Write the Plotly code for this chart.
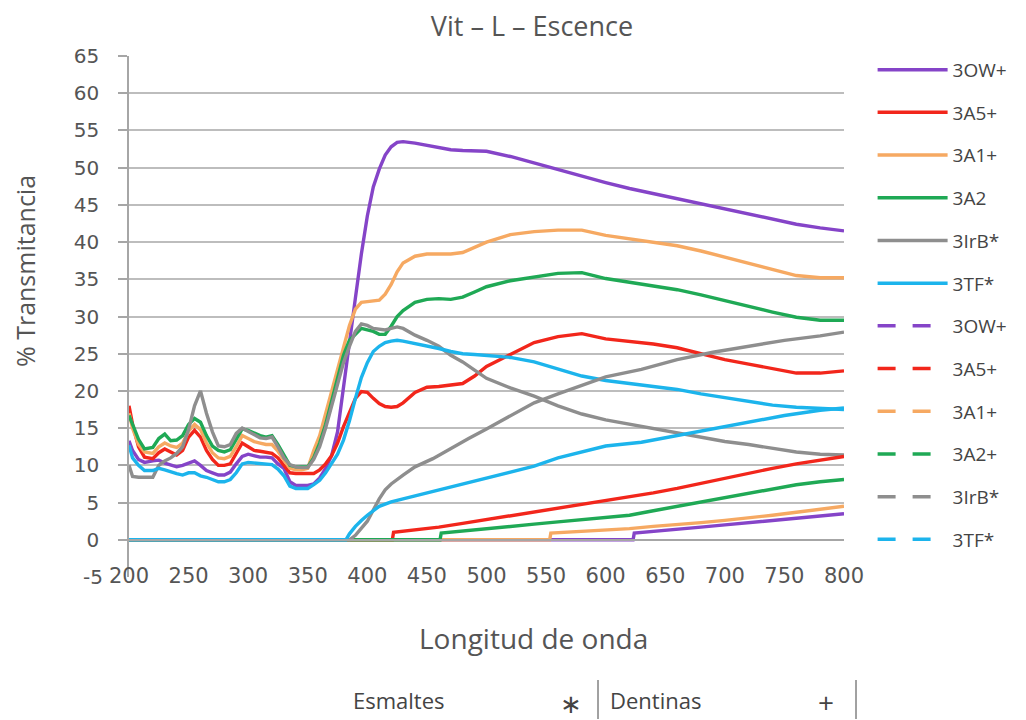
import plotly.graph_objects as go

# ---------------- data ----------------
WL = [200, 203, 208, 213, 220, 225, 230, 235, 240, 245, 250, 255, 260, 265, 270, 275, 280, 285,
      290, 295, 300, 305, 310, 315, 320, 325, 330, 335, 340, 345, 350,
      355, 360, 365, 370, 375, 380, 385, 390, 395, 400, 405, 410, 415, 420, 425, 430,
      440, 450, 460, 470, 480, 490, 500,
      520, 540, 560, 580, 600, 620, 640, 660, 680, 700, 720, 740, 760, 780, 800]

OW_E = [13.3, 12.0, 10.8, 10.4, 10.6, 10.7, 10.3, 10.1, 9.8, 10.0, 10.3, 10.6, 10.0, 9.3, 9.0, 8.7, 8.7, 9.1,
        10.2, 11.2, 11.5, 11.3, 11.1, 11.1, 11.0, 10.2, 9.6, 7.8, 7.3, 7.3, 7.3,
        7.5, 8.3, 9.6, 11.3, 14.5, 20.5, 27.3, 32.5, 38.4, 43.5, 47.4, 49.8, 51.7, 52.8, 53.4, 53.5,
        53.3, 53.0, 52.7, 52.4, 52.3, 52.3, 52.2,
        51.5, 50.6, 49.7, 48.8, 48.0, 47.2, 46.5, 45.8, 45.1, 44.4, 43.7, 43.0, 42.4, 41.9, 41.5]
A5_E = [18.0, 15.5, 12.5, 11.1, 10.9, 11.7, 12.2, 11.8, 11.4, 12.0, 13.8, 14.7, 13.8, 12.0, 10.8, 10.0, 10.0, 10.2,
        11.5, 13.0, 12.5, 12.0, 11.9, 11.7, 11.6, 11.0, 10.0, 9.0, 8.9, 8.9, 8.9,
        8.9, 9.4, 10.2, 11.3, 13.0, 15.2, 17.2, 19.0, 19.9, 19.8, 19.0, 18.3, 17.9, 17.8, 17.9, 18.4,
        19.8, 20.5, 20.6, 20.8, 21.0, 22.0, 23.3,
        24.9, 26.5, 27.3, 27.7, 27.0, 26.7, 26.3, 25.8, 25.0, 24.2, 23.6, 23.0, 22.4, 22.4, 22.7]
A1_E = [17.0, 15.0, 12.8, 11.8, 11.6, 12.5, 13.0, 12.6, 12.4, 13.0, 14.6, 15.5, 14.8, 13.0, 11.7, 11.0, 10.9, 11.2,
        12.5, 14.0, 13.6, 13.2, 13.0, 12.8, 12.8, 11.9, 10.7, 9.6, 9.4, 9.4, 9.6,
        12.0, 14.0, 17.0, 20.0, 23.0, 25.9, 28.8, 31.0, 31.9, 32.0, 32.1, 32.2, 33.0, 34.3, 36.0, 37.2,
        38.1, 38.4, 38.4, 38.4, 38.6, 39.3, 40.0,
        41.0, 41.4, 41.6, 41.6, 40.9, 40.4, 40.0, 39.5, 38.8, 38.0, 37.2, 36.4, 35.5, 35.2, 35.2]
A2_E = [16.7, 15.5, 13.5, 12.2, 12.4, 13.6, 14.2, 13.3, 13.4, 14.0, 15.5, 16.3, 15.8, 14.0, 12.6, 12.0, 11.8, 12.1,
        13.5, 14.9, 14.7, 14.3, 14.0, 13.8, 14.0, 12.8, 11.3, 10.0, 9.8, 9.8, 9.8,
        11.0, 13.0, 15.5, 18.6, 21.8, 24.8, 26.8, 27.6, 28.4, 28.2, 28.0, 27.6, 27.6, 28.7, 30.0, 30.8,
        31.9, 32.3, 32.4, 32.3, 32.6, 33.3, 34.0,
        34.8, 35.3, 35.8, 35.9, 35.1, 34.6, 34.1, 33.6, 32.9, 32.1, 31.3, 30.6, 29.9, 29.5, 29.5]
IRB_E = [10.0, 8.5, 8.4, 8.4, 8.4, 10.0, 10.6, 11.0, 11.6, 12.5, 14.8, 18.0, 20.0, 17.0, 14.5, 12.6, 12.5, 12.8,
         14.3, 15.0, 14.6, 14.2, 13.7, 13.6, 13.8, 12.5, 11.0, 10.1, 9.8, 9.7, 9.7,
         10.8, 12.5, 15.0, 18.0, 21.0, 23.8, 26.0, 28.0, 29.0, 28.8, 28.4, 28.3, 28.2, 28.4, 28.6, 28.4,
         27.5, 26.8, 26.0, 24.8, 23.9, 22.8, 21.7,
         20.4, 19.3, 18.0, 16.9, 16.1, 15.5, 14.9, 14.3, 13.8, 13.2, 12.8, 12.3, 11.8, 11.5, 11.4]
TF_E = [12.7, 11.0, 10.0, 9.3, 9.3, 9.6, 9.4, 9.1, 8.9, 8.7, 9.0, 9.0, 8.6, 8.4, 8.1, 7.8, 7.8, 8.1,
        9.0, 10.2, 10.4, 10.3, 10.2, 10.2, 10.1, 9.5, 8.6, 7.2, 6.9, 6.9, 6.9,
        7.4, 8.0, 9.0, 10.2, 11.5, 13.4, 16.0, 19.0, 21.8, 23.8, 25.3, 26.0, 26.5, 26.7, 26.8, 26.7,
        26.4, 26.0, 25.7, 25.3, 25.0, 24.9, 24.8,
        24.5, 23.9, 22.9, 22.0, 21.4, 21.0, 20.6, 20.2, 19.6, 19.1, 18.6, 18.1, 17.8, 17.6, 17.5]

OW_D_X = [200, 623, 624, 640, 660, 680, 700, 720, 740, 760, 780, 800]
OW_D = [0, 0, 0.9, 1.1, 1.4, 1.7, 2.0, 2.3, 2.6, 2.9, 3.2, 3.5]
A5_D_X = [200, 421, 422, 440, 460, 480, 500, 520, 540, 560, 580, 600, 620, 640, 660, 680, 700, 720, 740, 760, 780, 800]
A5_D = [0, 0, 1.0, 1.3, 1.7, 2.2, 2.7, 3.2, 3.7, 4.2, 4.7, 5.2, 5.7, 6.3, 6.9, 7.6, 8.3, 9.0, 9.6, 10.2, 10.7, 11.2]
A1_D_X = [200, 553, 554, 580, 600, 620, 640, 660, 680, 700, 720, 740, 760, 780, 800]
A1_D = [0, 0, 0.9, 1.1, 1.3, 1.5, 1.8, 2.0, 2.3, 2.6, 2.9, 3.3, 3.7, 4.1, 4.5]
A2_D_X = [200, 461, 462, 480, 500, 520, 540, 560, 580, 600, 620, 640, 660, 680, 700, 720, 740, 760, 780, 800]
A2_D = [0, 0, 0.9, 1.2, 1.5, 1.8, 2.1, 2.4, 2.7, 3.0, 3.3, 3.9, 4.5, 5.1, 5.7, 6.3, 6.9, 7.4, 7.8, 8.1]
IRB_D_X = [200, 385, 390, 395, 400, 405, 410, 415, 420, 430, 440, 455, 470, 485, 500, 520, 540, 560, 580, 600,
           630, 660, 690, 720, 750, 780, 800]
IRB_D = [0, 0, 0.6, 1.5, 2.5, 4.0, 5.5, 6.7, 7.5, 8.7, 9.8, 10.9, 12.3, 13.6, 14.9, 16.6, 18.4, 19.6, 20.7, 21.9,
         22.9, 24.2, 25.2, 26.0, 26.8, 27.4, 27.9]
TF_D_X = [200, 382, 385, 390, 395, 400, 410, 420, 430, 440, 455, 470, 485, 500, 520, 540, 560, 580, 600,
          630, 660, 690, 720, 750, 780, 800]
TF_D = [0, 0, 0.8, 1.8, 2.6, 3.3, 4.5, 5.1, 5.5, 5.9, 6.5, 7.1, 7.7, 8.3, 9.1, 9.9, 11.0, 11.8, 12.6,
        13.1, 14.0, 14.9, 15.8, 16.7, 17.4, 17.7]

NAMES_E = ["3OW+", "3A5+", "3A1+", "3A2", "3IrB*", "3TF*"]
NAMES_D = ["3OW+", "3A5+", "3A1+", "3A2+", "3IrB*", "3TF*"]
X_TICKS = list(range(200, 801, 50))
Y_TICKS = list(range(-5, 66, 5))

# ---------------- style ----------------
COLORS = ["#8544C8", "#F2261B", "#F6A962", "#1FA955", "#8E8E8E", "#1CB4EC"]
TXT = "#555555"
FONT = "Open Sans"
TICKFONT = "DejaVu Sans"
LW = 3.4

fig = go.Figure()

solid_y = [OW_E, A5_E, A1_E, A2_E, IRB_E, TF_E]
dash_x = [OW_D_X, A5_D_X, A1_D_X, A2_D_X, IRB_D_X, TF_D_X]
dash_y = [OW_D, A5_D, A1_D, A2_D, IRB_D, TF_D]

for name, col, ys in zip(NAMES_E, COLORS, solid_y):
    fig.add_trace(go.Scatter(x=WL, y=ys, mode="lines", name=name, showlegend=False,
                             line=dict(color=col, width=LW), hoverinfo="skip"))
for name, col, xs, ys in zip(NAMES_D, COLORS, dash_x, dash_y):
    fig.add_trace(go.Scatter(x=xs, y=ys, mode="lines", name=name, showlegend=False,
                             line=dict(color=col, width=LW), hoverinfo="skip"))

# legend entries (solid group, then dashed group)
for i, (name, col) in enumerate(zip(NAMES_E, COLORS)):
    fig.add_trace(go.Scatter(x=[None], y=[None], mode="lines", name=name, legendgroup=f"e{i}",
                             line=dict(color=col, width=3.5)))
for i, (name, col) in enumerate(zip(NAMES_D, COLORS)):
    fig.add_trace(go.Scatter(x=[None], y=[None], mode="lines", name=name, legendgroup=f"d{i}",
                             line=dict(color=col, width=3.5, dash="18px,17px")))

y_lo, y_hi = Y_TICKS[0], Y_TICKS[-1]

fig.update_layout(
    width=1026, height=720,
    margin=dict(l=129, r=182, t=56, b=143, pad=0),
    paper_bgcolor="white", plot_bgcolor="white",
    title=dict(text="Vit – L – Escence", x=532 / 1026, xanchor="center", y=1 - 27 / 720, yanchor="middle",
               font=dict(family=FONT, size=27, color=TXT)),
    xaxis=dict(range=[X_TICKS[0], X_TICKS[-1]], tickvals=X_TICKS, showgrid=False, zeroline=False,
               anchor="free", position=(0 - y_lo) / (y_hi - y_lo),
               showline=True, linecolor="#A6A6A6", linewidth=1.5, ticks="",
               ticklabelstandoff=17,
               tickfont=dict(family=TICKFONT, size=21, color=TXT)),
    yaxis=dict(range=[y_lo, y_hi], tickvals=Y_TICKS[1:], showgrid=True, gridcolor="#BDBDBD", gridwidth=2,
               zeroline=False, showline=True, linecolor="#A6A6A6", linewidth=1.5,
               ticks="outside", ticklen=9, tickcolor="#A6A6A6", tickwidth=1.5,
               ticklabelstandoff=15,
               tickfont=dict(family=TICKFONT, size=20, color=TXT)),
    legend=dict(x=1.04, xanchor="left", y=1.01, yanchor="top", traceorder="grouped",
                tracegroupgap=15, itemwidth=70, bgcolor="rgba(0,0,0,0)", maxheight=700,
                font=dict(family=FONT, size=19, color="#444444")),
    showlegend=True,
)

# "-5" tick label of the value axis (no gridline there)
fig.add_annotation(x=0, xref="paper", y=y_lo, yref="y", text=str(Y_TICKS[0]), showarrow=False,
                   xanchor="right", yanchor="middle", xshift=-24,
                   font=dict(family=TICKFONT, size=20, color=TXT))


def px(xp):
    return (xp - 129) / 715


def py(yp):
    return (577 - yp) / 521


# axis titles
fig.add_annotation(x=px(533), xref="paper", y=py(638), yref="paper", text="Longitud de onda",
                   showarrow=False, xanchor="center", yanchor="middle",
                   font=dict(family=FONT, size=28, color=TXT))
fig.add_annotation(x=px(25), xref="paper", y=py(271), yref="paper", text="% Transmitancia",
                   showarrow=False, xanchor="center", yanchor="middle", textangle=-90,
                   font=dict(family=FONT, size=25, color=TXT))

# bottom footer labels
fig.add_annotation(x=px(351), y=py(700), xref="paper", yref="paper", text="Esmaltes", showarrow=False,
                   xanchor="left", yanchor="middle", font=dict(family=FONT, size=22, color="#444444"))
fig.add_annotation(x=px(571), y=py(703), xref="paper", yref="paper", text="∗", showarrow=False,
                   xanchor="center", yanchor="middle", font=dict(family=FONT, size=26, color="#444444"))
fig.add_annotation(x=px(608), y=py(700), xref="paper", yref="paper", text="Dentinas", showarrow=False,
                   xanchor="left", yanchor="middle", font=dict(family=FONT, size=22, color="#444444"))
fig.add_annotation(x=px(826), y=py(702), xref="paper", yref="paper", text="+", showarrow=False,
                   xanchor="center", yanchor="middle", font=dict(family=FONT, size=28, color="#444444"))
for xv in (598, 856):
    fig.add_shape(type="line", xref="paper", yref="paper", x0=px(xv), x1=px(xv), y0=py(680), y1=py(719),
                  line=dict(color="#444444", width=1))

fig.write_html("out.html")
